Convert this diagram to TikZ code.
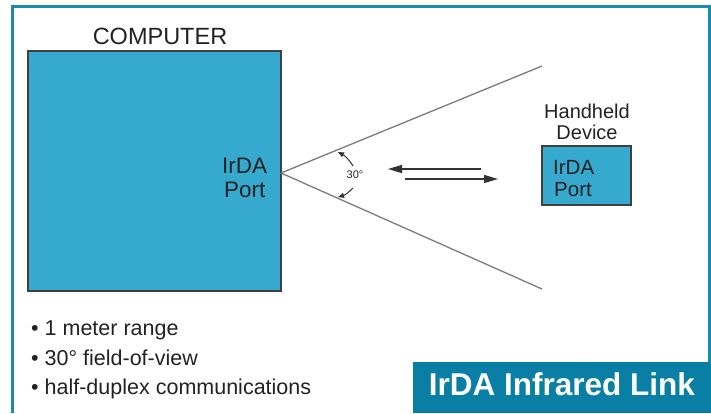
\documentclass[tikz,border=0pt]{standalone}
\usepackage{fontspec}
\setmainfont{Liberation Sans}
\usetikzlibrary{arrows.meta}
\definecolor{frameC}{HTML}{1A8BB0}
\definecolor{titleC}{HTML}{0A7FA5}
\definecolor{boxC}{HTML}{36A9CE}
\definecolor{txtC}{HTML}{222222}
\definecolor{coneC}{HTML}{7A7A7A}
\tikzset{
  lbl/.style={inner sep=0pt, anchor=base, text=txtC},
  lblw/.style={inner sep=0pt, anchor=base west, text=txtC},
  devbox/.style={draw=black!75, line width=1.2pt, fill=boxC},
  cone/.style={draw=coneC, line width=1.3pt},
  link/.style={draw=black!80, line width=1.2pt, -{Triangle[length=14pt,width=8pt]}},
  angarr/.style={draw=black!80, line width=1pt, -{Triangle[length=6pt,width=5pt]}},
}
\begin{document}
\begin{tikzpicture}[x=1pt,y=-1pt]
\useasboundingbox (0,0) rectangle (711,413);
% frame
\fill[frameC] (11,5) rectangle (711,8);
\fill[frameC] (11,5) rectangle (14,413);
\fill[frameC] (708,5) rectangle (711,413);
% computer
\node[lbl, font=\fontsize{23.5}{24}\selectfont] (comp) at (160,44) {COMPUTER};
\draw[devbox] (28,51) rectangle (281,291);
\node[lblw, font=\fontsize{22.5}{24}\selectfont] (irdaC) at (222,173) {IrDA};
\node[lblw, font=\fontsize{22.5}{24}\selectfont] (portC) at (224,197) {Port};
% cone
\coordinate (apex) at (281,173);
\coordinate (ctop) at (542,66);
\coordinate (cbot) at (542,289);
\draw[cone] (ctop) -- (apex) -- (cbot);
% angle
\node[lbl, font=\fontsize{11}{12}\selectfont] (ang) at (355,178) {30°};
\coordinate (a1s) at (353,166);
\coordinate (a1e) at (338,152);
\coordinate (a2s) at (353,188);
\coordinate (a2e) at (338,197);
\draw[angarr] (a1s) to[bend right=15] (a1e);
\draw[angarr] (a2s) to[bend left=15] (a2e);
% link arrows
\coordinate (l1s) at (481,169);
\coordinate (l1e) at (388,169);
\coordinate (l2s) at (405,179);
\coordinate (l2e) at (498,179);
\draw[link] (l1s) -- (l1e);
\draw[link] (l2s) -- (l2e);
% handheld
\node[lbl, font=\fontsize{20}{22}\selectfont] (hh) at (587,118) {Handheld};
\node[lbl, font=\fontsize{20}{22}\selectfont] (dev) at (587,139) {Device};
\draw[devbox] (542,146) rectangle (631,205);
\node[lblw, font=\fontsize{20.5}{22}\selectfont] (irdaH) at (553,174) {IrDA};
\node[lblw, font=\fontsize{20.5}{22}\selectfont] (portH) at (554,196) {Port};
% bullets
\node[lblw, font=\fontsize{21.5}{22}\selectfont] (b1) at (31,335) {• 1 meter range};
\node[lblw, font=\fontsize{21.5}{22}\selectfont] (b2) at (31,365) {• 30° field-of-view};
\node[lblw, font=\fontsize{21.5}{22}\selectfont] (b3) at (31,394) {• half-duplex communications};
% title
\fill[titleC] (413,362) rectangle (711,413);
\node[inner sep=0pt, anchor=base, text=white, font=\bfseries\fontsize{31.5}{32}\selectfont] (title) at (562,395) {IrDA Infrared Link};
\end{tikzpicture}
\end{document}
